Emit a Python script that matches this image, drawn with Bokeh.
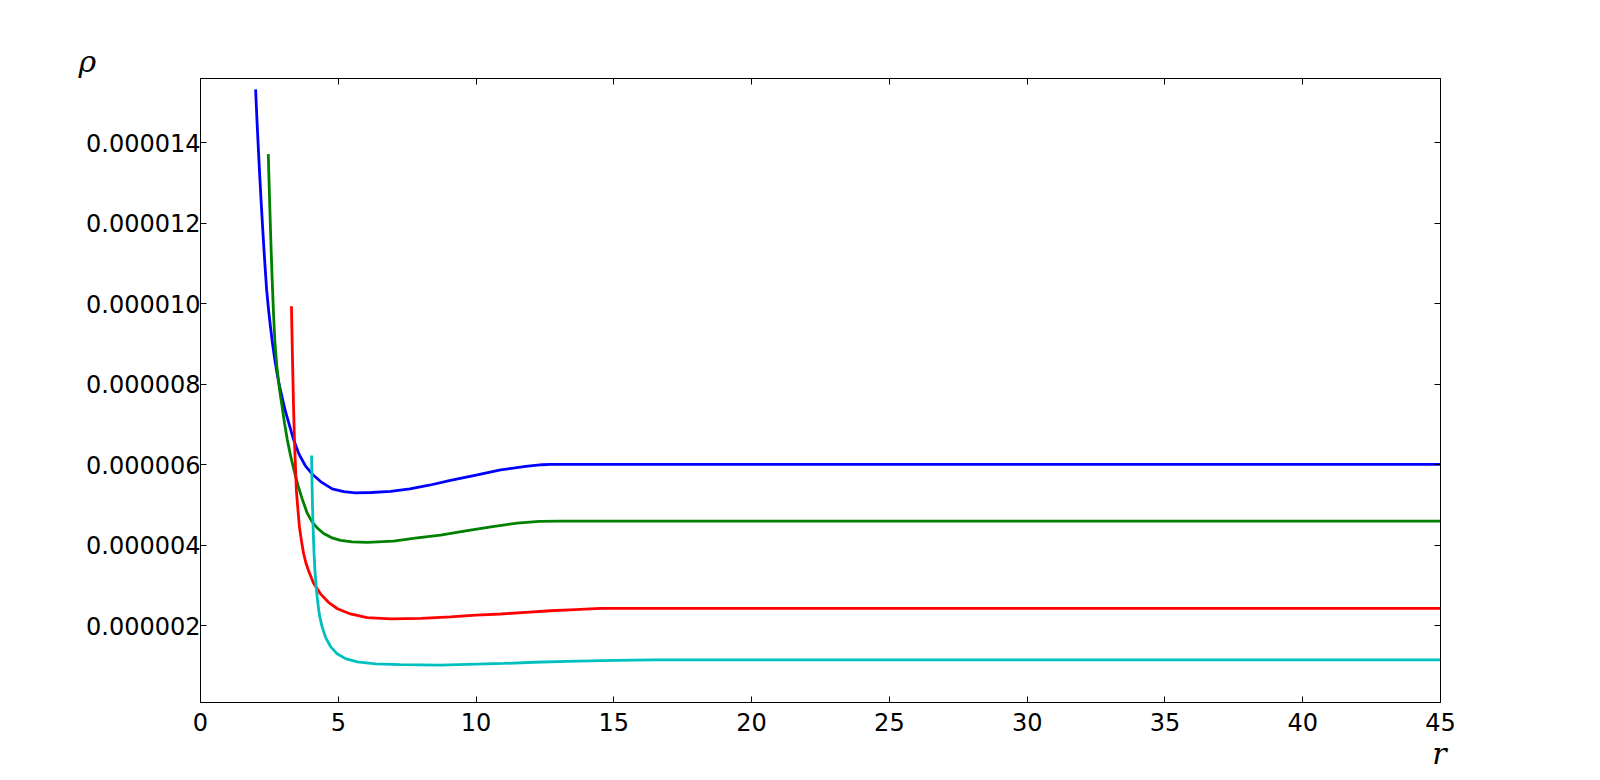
from bokeh.plotting import figure
from bokeh.models import Range1d, LinearAxis, FixedTicker, PrintfTickFormatter, CustomJSTickFormatter, Title
from bokeh.embed import file_html
from bokeh.resources import INLINE

# ---- data (r, rho in units of 1e-6) ----
blue_r = [2.00, 2.05, 2.10, 2.15, 2.20, 2.25, 2.30, 2.35, 2.40, 2.47, 2.54, 2.62, 2.70, 2.78, 2.87,
          2.96, 3.08, 3.21, 3.38, 3.57, 3.80, 4.05, 4.40, 4.78, 5.20, 5.62, 6.2, 6.9, 7.6, 8.3, 9.07,
          10.0, 10.89, 11.8, 12.4, 12.7, 15, 20, 25, 30, 35, 40, 45]
blue_v = [15.33, 14.55, 13.85, 13.18, 12.55, 11.95, 11.38, 10.85, 10.35, 9.85, 9.42, 8.98, 8.60, 8.26, 7.95,
          7.68, 7.33, 7.02, 6.62, 6.27, 5.98, 5.77, 5.56, 5.40, 5.33, 5.30, 5.31, 5.34, 5.40, 5.49, 5.61,
          5.74, 5.87, 5.96, 6.00, 6.01, 6.01, 6.01, 6.01, 6.01, 6.01, 6.01, 6.01]

green_r = [2.46, 2.50, 2.55, 2.60, 2.65, 2.70, 2.77, 2.84, 2.90, 2.96, 3.05, 3.15, 3.27, 3.39, 3.54,
           3.69, 3.87, 4.05, 4.25, 4.47, 4.75, 5.08, 5.5, 6.05, 7.0, 7.86, 8.71, 9.68, 10.6, 11.49,
           12.3, 13.06, 15, 20, 25, 30, 35, 40, 45]
green_v = [13.72, 12.75, 11.62, 10.62, 9.75, 9.05, 8.45, 8.02, 7.72, 7.45, 7.03, 6.62, 6.22, 5.88, 5.48,
           5.15, 4.80, 4.58, 4.42, 4.29, 4.19, 4.12, 4.08, 4.07, 4.10, 4.18, 4.25, 4.36, 4.46, 4.55,
           4.59, 4.60, 4.60, 4.60, 4.60, 4.60, 4.60, 4.60, 4.60]

red_r = [3.30, 3.34, 3.375, 3.41, 3.45, 3.48, 3.54, 3.59, 3.665, 3.74, 3.83, 3.93, 4.10, 4.355, 4.645,
         4.97, 5.44, 6.05, 6.90, 8.0, 9.07, 10.0, 10.89, 11.8, 12.7, 13.6, 14.51, 20, 25, 30, 35, 40, 45]
red_v = [9.94, 8.60, 7.50, 6.60, 5.90, 5.35, 4.85, 4.45, 4.10, 3.80, 3.55, 3.35, 3.06, 2.79, 2.58,
         2.42, 2.29, 2.20, 2.17, 2.18, 2.22, 2.26, 2.29, 2.33, 2.37, 2.40, 2.43, 2.43, 2.43, 2.43, 2.43, 2.43, 2.43]

cyan_r = [4.03, 4.046, 4.064, 4.09, 4.12, 4.155, 4.20, 4.26, 4.32, 4.41, 4.54, 4.72, 4.96, 5.26, 5.69,
          6.35, 7.26, 8.71, 9.68, 11.0, 12.09, 13.3, 14.51, 15.7, 16.5, 20, 25, 30, 35, 40, 45]
cyan_v = [6.23, 5.60, 5.00, 4.36, 3.80, 3.35, 2.95, 2.55, 2.25, 1.98, 1.71, 1.48, 1.30, 1.18, 1.10,
          1.05, 1.03, 1.02, 1.04, 1.06, 1.09, 1.11, 1.13, 1.145, 1.15, 1.15, 1.15, 1.15, 1.15, 1.15, 1.15]

x_ticks = [0, 5, 10, 15, 20, 25, 30, 35, 40, 45]
y_ticks = [2e-6, 4e-6, 6e-6, 8e-6, 10e-6, 12e-6, 14e-6]

series = [
    (blue_r, blue_v, "#0000ff"),
    (green_r, green_v, "#008000"),
    (red_r, red_v, "#ff0000"),
    (cyan_r, cyan_v, "#00bfbf"),
]

p = figure(frame_width=1240, frame_height=624, output_backend="svg", toolbar_location=None,
           x_range=Range1d(0, 45), y_range=Range1d(0.09e-6, 15.6e-6),
           min_border_left=200, min_border_right=144, min_border_top=78, min_border_bottom=30)
p.xgrid.visible = False
p.ygrid.visible = False
p.outline_line_color = "#000000"
p.outline_line_width = 1
p.background_fill_color = "white"
p.border_fill_color = "white"

for r, v, c in series:
    p.line([float(a) for a in r], [b * 1e-6 for b in v], line_color=c, line_width=2.8)

FONT = "DejaVu Sans"
FS = "24px"

def style_axis(ax, ticks, show_labels=True):
    ax.ticker = FixedTicker(ticks=ticks)
    ax.major_tick_in = 6
    ax.major_tick_out = 0
    ax.minor_tick_in = 0
    ax.minor_tick_out = 0
    ax.axis_line_color = "#000000"
    ax.major_tick_line_color = "#000000"
    ax.major_label_text_font = FONT
    ax.major_label_text_font_size = FS
    ax.major_label_text_color = "#000000"
    if not show_labels:
        ax.formatter = CustomJSTickFormatter(code="return ''")
        ax.major_label_text_font_size = "1px"
        ax.major_label_standoff = 0

xa = p.xaxis[0]
style_axis(xa, x_ticks)
xa.major_label_standoff = 10
ya = p.yaxis[0]
style_axis(ya, y_ticks)
ya.formatter = PrintfTickFormatter(format="%.6f")
ya.major_label_standoff = 0

top = LinearAxis()
style_axis(top, x_ticks, show_labels=False)
p.add_layout(top, "above")
right = LinearAxis()
style_axis(right, y_ticks, show_labels=False)
p.add_layout(right, "right")

p.add_layout(Title(text="ρ", align="left", offset=-122, standoff=0,
                   text_font="DejaVu Serif", text_font_style="italic",
                   text_font_size="30px", text_color="#000000"), "above")
p.add_layout(Title(text="r", align="right", offset=-6, standoff=0,
                   text_font="DejaVu Serif", text_font_style="italic",
                   text_font_size="30px", text_color="#000000"), "below")

open("out.html", "w").write(file_html(p, INLINE))
